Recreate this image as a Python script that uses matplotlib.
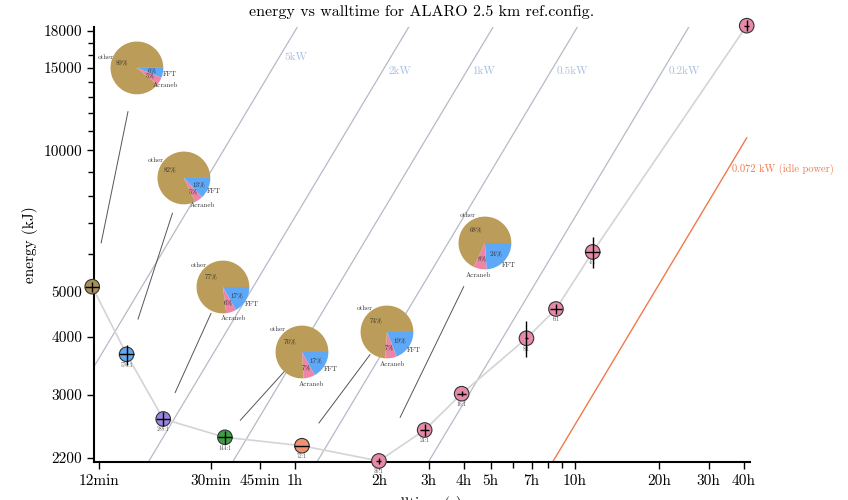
import numpy as np
import matplotlib
matplotlib.use('Agg')
from matplotlib import pyplot as plt

plt.rcParams['font.family'] = 'cmr10'
plt.rcParams['axes.unicode_minus'] = False
plt.rcParams['mathtext.fontset'] = 'cm'

# measurements: walltime (s), energy (kJ)
walltime = [680, 902, 1219, 2025, 3814, 7183, 10460, 14180, 24160, 30790, 41640, 147760]
energy = [5113, 3665, 2666, 2436, 2337, 2168, 2525, 3019, 3966, 4581, 6066, 18480]
walltime_err = [40, 55, 70, 120, 230, 150, 400, 500, 300, 1500, 2500, 3000]
energy_err = [120, 180, 90, 80, 0, 30, 70, 40, 350, 120, 450, 500]
config = ['1152:1', '576:1', '288:1', '144:1', '72:1', '36:1', '24:1', '16:1',
          '8:1', '6:1', '4:1', '1:1']
point_colors = ['#a8905a', '#62a8ec', '#9a86dc', '#3f9e45', '#ee9272',
                '#e68aa8', '#e68aa8', '#e68aa8', '#e68aa8', '#e68aa8', '#e68aa8', '#e68aa8']

# constant power lines (kW)
power_kw = [5, 2, 1, 0.5, 0.2]
power_labels = ['5kW', '2kW', '1kW', '0.5kW', '0.2kW']
idle_kw = 0.072

# time share (%) for the first six configurations
pie_names = ['FFT', 'Acraneb', 'other']
pie_fft = [6, 13, 17, 17, 19, 24]
pie_acraneb = [5, 5, 6, 7, 7, 8]
pie_other = [89, 82, 77, 76, 74, 68]
pie_colors = ['#5ea9f7', '#ee85a6', '#bb9c58']


def main():
    fig = plt.figure(figsize=(8.48, 5.0), dpi=100)
    ax = fig.add_axes([94/848, 38/500, 656/848, 435/500])
    ax.set_xscale('log')
    ax.set_yscale('log')
    ax.set_xlim(690, 151800)
    ax.set_ylim(2157, 18360)

    t = np.array(walltime, dtype=float)
    e = np.array(energy, dtype=float)
    t_span = np.array([t.min(), t.max()])

    # lines of constant power
    label_e = [15800, 14800, 14800, 14800, 14800]
    for p, lab, le in zip(power_kw, power_labels, label_e):
        ax.plot(t_span, p * t_span, color='#b8b8c8', lw=0.9, zorder=1)
        ax.annotate(lab, (le / p, le), xytext=(4, 0), textcoords='offset points',
                    ha='left', va='center', color='#a9bfdf', fontsize=8)
    ax.plot(t_span, idle_kw * t_span, color='#f07a4a', lw=1.0, zorder=1)
    ax.annotate(f'{idle_kw} kW (idle power)', (9100 / idle_kw, 9100), xytext=(3, 0),
                textcoords='offset points', ha='left', va='center',
                color='#f07a4a', fontsize=7.5)

    # measurements
    ax.plot(t, e, color='#d4d4d4', lw=1.2, zorder=2)
    ax.scatter(t, e, s=110, c=point_colors, edgecolors='#333333', linewidths=0.8,
               zorder=3, clip_on=False)
    ax.errorbar(t, e, xerr=walltime_err, yerr=energy_err, fmt='none',
                ecolor='black', elinewidth=1.0, zorder=4, clip_on=False)
    for ti, ei, c in zip(t, e, config):
        ax.annotate(c, (ti, ei), xytext=(0, -7.5), textcoords='offset points',
                    ha='center', va='center', fontsize=4, color='#555555')

    # pies with time shares
    pie_pos = [(982, 15010), (1445, 8732), (1992, 5105), (3814, 3707),
               (7673, 4091), (17170, 6340)]
    fig.canvas.draw()
    to_fig = fig.transFigure.inverted()
    r_px = 33
    for i, (pt, pe) in enumerate(pie_pos):
        # connector from pie towards its measurement
        lt0, le0 = np.log10(pt), np.log10(pe)
        lt1, le1 = np.log10(t[i]), np.log10(e[i])
        f = np.array([0.2, 0.8])
        ax.plot(10 ** (lt0 + f * (lt1 - lt0)), 10 ** (le0 + f * (le1 - le0)),
                color='#555555', lw=0.7, zorder=2)

        cx, cy = ax.transData.transform((pt, pe))
        x0, y0 = to_fig.transform((cx - r_px, cy - r_px))
        x1, y1 = to_fig.transform((cx + r_px, cy + r_px))
        pax = fig.add_axes([x0, y0, x1 - x0, y1 - y0])
        vals = [pie_fft[i], pie_acraneb[i], pie_other[i]]
        _, texts, pcts = pax.pie(vals, labels=pie_names, colors=pie_colors,
                                 startangle=0, counterclock=False, autopct='%d%%',
                                 pctdistance=0.6, labeldistance=1.25, radius=1.0,
                                 textprops={'fontsize': 5, 'color': '#333333'})
        for tx in texts:
            tx.set_horizontalalignment('center')
        pax.set_aspect('equal')
        pax.axis('off')

    xt = [720, 1800, 2700, 3600, 7200, 10800, 14400, 18000, 25200, 36000,
          72000, 108000, 144000]
    xtl = ['12min', '30min', '45min', '1h', '2h', '3h', '4h', '5h', '7h', '10h',
           '20h', '30h', '40h']
    ax.set_xticks(xt)
    ax.set_xticklabels(xtl)
    ax.set_xticks([21600, 28800, 32400], minor=True)
    ax.set_xticklabels([], minor=True)
    yt = [2200, 3000, 4000, 5000, 10000, 15000, 18000]
    ax.set_yticks(yt)
    ax.set_yticklabels([str(v) for v in yt])
    ax.set_yticks([6000, 7000, 8000, 9000, 11000, 12000, 13000, 14000, 16000, 17000],
                  minor=True)
    ax.set_yticklabels([], minor=True)

    ax.tick_params(which='both', direction='out', width=1.0, labelsize=11)
    ax.tick_params(which='major', length=5)
    ax.tick_params(which='minor', length=4)
    for s in ['top', 'right']:
        ax.spines[s].set_visible(False)
    for s in ['left', 'bottom']:
        ax.spines[s].set_linewidth(1.5)

    ax.set_title('energy vs walltime for ALARO 2.5 km ref.config.', fontsize=11.5, pad=8)
    ax.set_xlabel('walltime (s)', fontsize=11, labelpad=6)
    ax.set_ylabel('energy (kJ)', fontsize=11)

    fig.savefig('out.png', dpi=100)


if __name__ == '__main__':
    main()
